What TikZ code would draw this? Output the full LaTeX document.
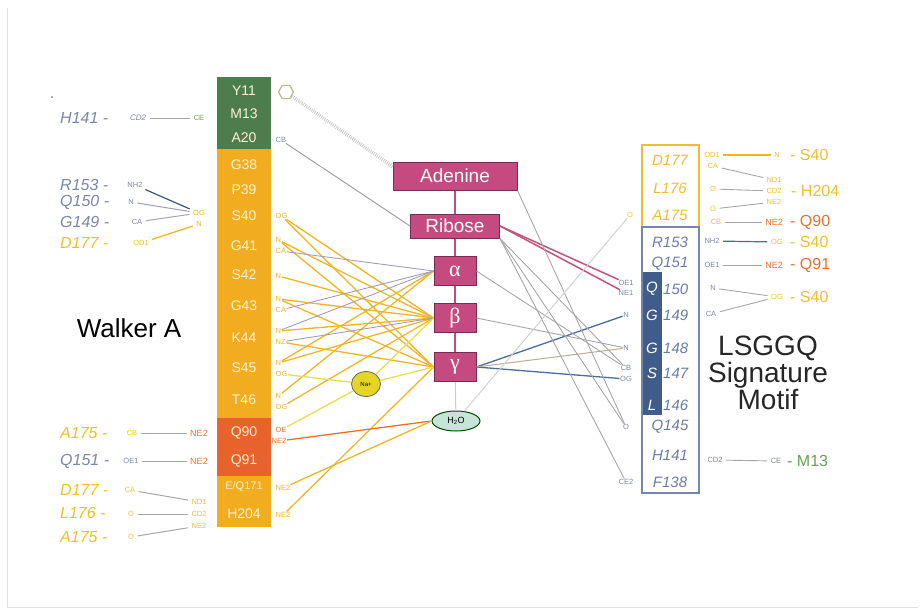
\documentclass[tikz,border=0pt]{standalone}
\usepackage{fontspec}
\setmainfont{Liberation Sans}
\newfontfamily\grk{Liberation Serif}
\usetikzlibrary{positioning,shapes.geometric}
\definecolor{wgreen}{HTML}{4E7D4D}
\definecolor{worange}{HTML}{F2AC1F}
\definecolor{wred}{HTML}{E8622B}
\definecolor{mag}{HTML}{C44A80}
\definecolor{magd}{HTML}{7A2A50}
\definecolor{resw}{HTML}{FFF2D2}
\definecolor{atomy}{HTML}{E9B52C}
\definecolor{atomo}{HTML}{E8702E}
\definecolor{lnk}{HTML}{F1B523}
\definecolor{lav}{HTML}{A29CBB}
\definecolor{lime}{HTML}{E7DE4A}
\definecolor{lbl}{HTML}{7C86A8}
\definecolor{motyel}{HTML}{EFBE2A}
\definecolor{motblu}{HTML}{6B7CA2}
\definecolor{motfill}{HTML}{3F5C8B}
\definecolor{motline}{HTML}{7486AE}
\definecolor{blink}{HTML}{4C6C9A}
\definecolor{pink}{HTML}{C8507F}
\definecolor{tan}{HTML}{B9AC95}
\definecolor{mgreen}{HTML}{6E9A5A}
\definecolor{hexc}{HTML}{B9BC8C}
\definecolor{waterc}{HTML}{C6E4D8}
\definecolor{sodium}{HTML}{E4D526}
\newcommand\fsz[1]{\fontsize{#1}{#1}\selectfont}
\tikzset{
  res/.style={font=\fsz{14}, text=resw, inner sep=0pt},
  atom/.style={font=\fsz{7.5}, inner sep=0.5pt},
  motifres/.style={font=\fsz{15}\itshape, inner sep=0pt},
  farres/.style={font=\fsz{16}\itshape, inner sep=0pt},
  tag/.style={font=\fsz{16}, inner sep=0pt},
  part/.style={rectangle, draw=magd, fill=mag, line width=1pt, text=white, inner sep=0pt},
  ylink/.style={draw=lnk, line width=1.3pt},
  glink/.style={draw=lav, line width=0.9pt},
  short/.style={shorten <=3pt, shorten >=3pt}
}

\begin{document}
\begin{tikzpicture}[x=1pt,y=-1pt]
\useasboundingbox (0,0) rectangle (920,613);
% frame
\draw[black!12] (7,8) -- (7,607) -- (918,607);
\fill[black!50] (52,97) circle (1pt);

% Walker A column
\fill[wgreen] (217,77) rectangle (271,149);
\fill[worange] (217,149) rectangle (271,418);
\fill[wred] (217,418) rectangle (271,476);
\fill[worange] (217,476) rectangle (271,527);
\foreach \nm/\txt/\yy in {y11/Y11/91, m13/M13/114, a20/A20/138, g38/G38/165, p39/P39/190,
    s40/S40/216, g41/G41/246, s42/S42/275, g43/G43/306, k44/K44/338, s45/S45/368,
    t46/T46/400, q90/Q90/433, q91/Q91/461, h204/H204/514}
  \node[res] (\nm) at (244,\yy) {\txt};
\node[res, font=\fsz{11}] (e171) at (244,487) {E/Q171};

% atoms next to the column
\node[atom, text=lbl, anchor=west] (a20cb) at (275,140) {CB};
\foreach \nm/\txt/\yy in {s40og/OG/216, g41n/N/240, g41ca/CA/251, s42n/N/276, g43n/N/299,
    g43ca/CA/310, k44n/N/331, k44nz/NZ/342, s45n/N/363, s45og/OG/374, t46n/N/396,
    t46og/OG/407, e171ne/NE2/488, h204ne/NE2/515}
  \node[atom, text=atomy, anchor=west] (\nm) at (275,\yy) {\txt};
\node[atom, text=atomo, anchor=west] (q90oe) at (275,430) {OE};
\node[atom, text=atomo, anchor=west] (q90ne) at (271,441) {NE2};
\node[regular polygon, regular polygon sides=6, draw=hexc, line width=1.3pt,
  minimum size=15pt, inner sep=0pt] (hex) at (286,92) {};

% ATP parts
\node[part, minimum width=124pt, minimum height=28pt, font=\fsz{19}] (ade) at (455,176) {Adenine};
\node[part, minimum width=89pt, minimum height=24pt, font=\fsz{19}] (rib) at (455,226) {Ribose};
\node[part, minimum width=42pt, minimum height=29pt, font=\fsz{22}\grk] (pa) at (455,271) {α};
\node[part, minimum width=42pt, minimum height=29pt, font=\fsz{22}\grk] (pb) at (455,318) {β};
\node[part, minimum width=42pt, minimum height=29pt, font=\fsz{22}\grk] (pg) at (455,367) {γ};
\node[ellipse, draw=black!70!green, fill=waterc, line width=1pt, minimum width=48pt,
  minimum height=20pt, inner sep=0pt, font=\fsz{9}] (h2o) at (456,421) {H\textsubscript{2}O};
\node[ellipse, draw=black!60, fill=sodium, line width=0.8pt, minimum width=29pt,
  minimum height=25pt, inner sep=0pt, font=\fsz{6}] (na) at (366,384) {Na+};
\draw[mag, line width=2pt] (ade) -- (rib);
\draw[mag, line width=2pt] (rib) -- (pa);
\draw[mag, line width=2pt] (pa) -- (pb);
\draw[mag, line width=2pt] (pb) -- (pg);
\draw[black!20, line width=1pt] (pg) -- (h2o);
\draw[black!22, line width=3.5pt, dash pattern=on 0.8pt off 1.2pt] (hex) -- ([yshift=-5pt]ade.north west);

% Walker A contacts
\foreach \a/\b in {s40og/pb, s40og/pg, g41n/pb, g41n/pg, s42n/pb, g43n/pb, g43n/pg, k44n/pb,
    k44nz/pg, s45n/pa, s45n/pb, t46n/pa, t46og/pb, h204ne/pg}
  \draw[ylink] (\a) -- (\b.west);
\foreach \a/\b in {g41ca/pa, g43ca/pa, k44n/pa, k44nz/pb}
  \draw[glink] (\a) -- (\b.west);
\draw[lime, line width=1.3pt] (s45og) -- (na);
\draw[lime, line width=1.3pt] (q90oe) -- (na);
\draw[lime, line width=1.3pt] (na) -- (pb.west);
\draw[lime, line width=1.3pt] (na) -- (pg.west);
\draw[atomo, line width=1.3pt] (q90ne) -- (h2o.west);
\draw[ylink] (e171ne) -- (h2o.west);
\draw[black!40, line width=0.9pt] (a20cb) -- (rib.west);

% LSGGQ column
\draw[motyel, line width=1.5pt] (642,145) rectangle (699,227);
\fill[motfill] (643,272) rectangle (662,415);
\draw[motline, line width=1.3pt] (642,227) rectangle (699,493);
\foreach \nm/\txt/\yy in {d177/D177/160, l176/L176/188, a175/A175/215}
  \node[motifres, text=motyel] (\nm) at (670,\yy) {\txt};
\foreach \nm/\txt/\yy in {r153/R153/242, q151/Q151/264, q145/Q145/427, h141/H141/455, f138/F138/482}
  \node[motifres, text=motblu] (\nm) at (670,\yy) {\txt};
\foreach \nm/\l/\n/\yy in {q150/Q/150/289, g149/G/149/315, g148/G/148/348, s147/S/147/373, l146/L/146/405}{
  \node[motifres, text=white] (\nm-l) at (652,\yy) {\l};
  \node[motifres, text=motblu, anchor=west] (\nm) at (663,\yy) {\n};
}

% atoms left of the motif
\node[atom, text=motyel] (a175o) at (630,215) {O};
\foreach \nm/\txt/\yy in {q150oe/OE1/283, q150ne/NE1/293, g149n/N/315, g148n/N/348,
    s147cb/CB/368, s147og/OG/379, q145o/O/427, f138ce/CE2/482}
  \node[atom, text=lbl] (\nm) at (626,\yy) {\txt};

% ATP contacts of the motif
\draw[pink, line width=1.5pt] (rib.east) -- (q150oe);
\draw[pink, line width=1.5pt] (rib.east) -- (q150ne);
\draw[blink, line width=1.3pt] (pg.east) -- (g149n);
\draw[blink, line width=1.3pt] (pg.east) -- (s147og);
\draw[tan, line width=1pt] (pg.east) -- (g148n);
\foreach \a/\b in {ade.south east/q145o, rib.south east/q145o, rib.south east/f138ce,
    rib.south east/s147cb, pa.east/s147cb, pb.east/g148n}
  \draw[black!35, line width=0.9pt] (\a) -- (\b);
\draw[black!18, line width=1pt] (h2o) -- (a175o);

% atoms right of the motif
\node[atom, text=motyel] (d177od) at (712,155) {OD1};
\node[atom, text=motyel] (d177ca) at (713,166) {CA};
\node[atom, text=motyel] (l176o) at (713,189) {O};
\node[atom, text=motyel] (a175o2) at (713,209) {O};
\node[atom, text=motyel] (a175cb) at (716,222) {CB};
\node[atom, text=lbl] (r153nh) at (712,241) {NH2};
\node[atom, text=lbl] (q151oe) at (712,265) {OE1};
\node[atom, text=lbl] (q150n) at (713,288) {N};
\node[atom, text=lbl] (g149ca) at (711,314) {CA};
\node[atom, text=lbl] (h141cd) at (715,460) {CD2};

\node[atom, text=motyel] (s40n) at (777,155) {N};
\node[tag, text=motyel, anchor=west] (s40a) at (790,155) {- S40};
\node[atom, text=motyel] (h204nd) at (774,180) {ND1};
\node[atom, text=motyel] (h204cd) at (774,191) {CD2};
\node[atom, text=motyel] (h204ne2) at (774,202) {NE2};
\node[tag, text=motyel, anchor=west] (h204a) at (791,191) {- H204};
\node[atom, font=\fsz{9}, text=atomo] (q90ne2) at (774,222) {NE2};
\node[tag, text=atomo, anchor=west] (q90a) at (790,222) {- Q90};
\node[atom, text=motyel] (s40og2) at (777,242) {OG};
\node[tag, text=motyel, anchor=west] (s40b) at (790,242) {- S40};
\node[atom, font=\fsz{9}, text=atomo] (q91ne2) at (774,265) {NE2};
\node[tag, text=atomo, anchor=west] (q91a) at (790,265) {- Q91};
\node[atom, text=motyel] (s40og3) at (777,297) {OG};
\node[tag, text=motyel, anchor=west] (s40c) at (790,297) {- S40};
\node[atom, text=lbl] (m13ce2) at (776,461) {CE};
\node[tag, text=mgreen, anchor=west] (m13a) at (787,461) {- M13};

\draw[ylink, short] (d177od) -- (s40n);
\foreach \a/\b in {d177ca/h204nd, l176o/h204cd, a175o2/h204ne2, a175cb/q90ne2, q151oe/q91ne2,
    q150n/s40og3, g149ca/s40og3, h141cd/m13ce2}
  \draw[black!35, line width=0.9pt, short] (\a) -- (\b);
\draw[blink, line width=1.2pt, short] (r153nh) -- (s40og2);

% partners on the far left
\node[farres, text=lbl, anchor=west] (h141b) at (60,118) {H141 -};
\node[atom, font=\fsz{8}\itshape, text=lbl] (h141cd2) at (138,118) {CD2};
\node[atom, text=mgreen] (m13ce) at (199,118) {CE};
\draw[black!35, line width=0.9pt, short] (h141cd2) -- (m13ce);

\node[farres, text=lbl, anchor=west] (r153b) at (60,185) {R153 -};
\node[atom, text=lbl] (r153nh2) at (135,185) {NH2};
\node[farres, text=lbl, anchor=west] (q150b) at (60,202) {Q150 -};
\node[atom, text=lbl] (q150n2) at (131,202) {N};
\node[farres, text=lbl, anchor=west] (g149b) at (60,222) {G149 -};
\node[atom, text=lbl] (g149ca2) at (137,222) {CA};
\node[farres, text=motyel, anchor=west] (d177b) at (60,243) {D177 -};
\node[atom, text=motyel] (d177od2) at (141,243) {OD1};
\node[atom, text=atomy] (s40og4) at (199,213) {OG};
\node[atom, text=atomy] (s40n2) at (199,224) {N};
\draw[blink!80!black, line width=1.2pt, short] (r153nh2) -- (s40og4);
\draw[lav, line width=1pt, short] (q150n2) -- (s40og4);
\draw[black!35, line width=1pt, short] (g149ca2) -- (s40og4);
\draw[ylink, short] (d177od2) -- (s40n2);

\node[farres, text=motyel, anchor=west] (a175b) at (60,433) {A175 -};
\node[atom, text=motyel] (a175cb2) at (132,433) {CB};
\node[atom, font=\fsz{9}, text=atomo] (q90ne3) at (199,433) {NE2};
\node[farres, text=lbl, anchor=west] (q151b) at (60,461) {Q151 -};
\node[atom, text=lbl] (q151oe2) at (131,461) {OE1};
\node[atom, font=\fsz{9}, text=atomo] (q91ne3) at (199,461) {NE2};
\draw[black!35, line width=1pt, short] (a175cb2) -- (q90ne3);
\draw[black!35, line width=1pt, short] (q151oe2) -- (q91ne3);

\node[farres, text=motyel, anchor=west] (d177c) at (60,490) {D177 -};
\node[atom, text=motyel] (d177ca2) at (130,490) {CA};
\node[farres, text=motyel, anchor=west] (l176b) at (60,513) {L176 -};
\node[atom, text=motyel] (l176o2) at (131,514) {O};
\node[farres, text=motyel, anchor=west] (a175c) at (60,537) {A175 -};
\node[atom, text=motyel] (a175o3) at (131,537) {O};
\node[atom, text=motyel] (h204nd2) at (199,502) {ND1};
\node[atom, text=motyel] (h204cd2) at (199,514) {CD2};
\node[atom, text=motyel] (h204ne3) at (199,526) {NE2};
\draw[black!35, line width=1pt, short] (d177ca2) -- (h204nd2);
\draw[black!35, line width=1pt, short] (l176o2) -- (h204cd2);
\draw[black!35, line width=1pt, short] (a175o3) -- (h204ne3);

% titles
\node[font=\fsz{26}] (walker) at (129,328) {Walker A};
\node[font=\fsz{28}, align=center, text=black!85] (lsggq) at (768,373)
  {LSGGQ\\[-1pt]Signature\\[-1pt]Motif};
\end{tikzpicture}
\end{document}
